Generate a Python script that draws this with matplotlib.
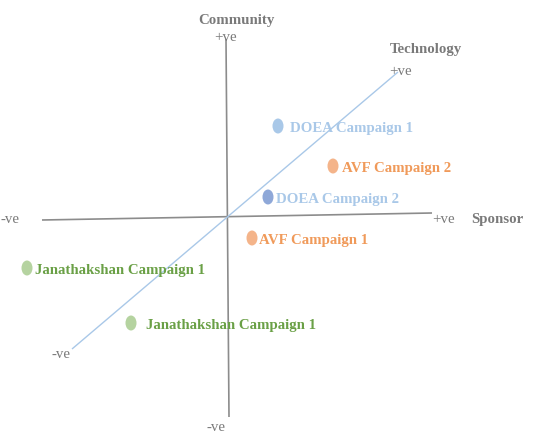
import matplotlib
matplotlib.use("Agg")
import matplotlib.pyplot as plt
from matplotlib.patches import Ellipse

plt.rcParams['font.family'] = ['Liberation Serif', 'DejaVu Serif']

# Campaign positions (diagram coordinates)
labels = ["DOEA Campaign 1", "AVF Campaign 2", "DOEA Campaign 2",
          "AVF Campaign 1", "Janathakshan Campaign 1", "Janathakshan Campaign 1"]
px = [278, 333, 268, 252, 27, 131]
py = [127, 167, 198, 239, 269, 324]
label_dx = [12, 9, 8, 7, 8, 15]
marker_colors = ["#a9c8e8", "#f4b48a", "#8fa8d8", "#f4b48a", "#b5d3a0", "#b5d3a0"]
text_colors = ["#a9c8e8", "#f09a5a", "#a9c8e8", "#f09a5a", "#6aa046", "#6aa046"]

# axis lines
sponsor_x = [42, 432]; sponsor_y = [221, 214]
community_x = [226, 229]; community_y = [40, 418]
tech_x = [72, 398]; tech_y = [350, 73]

FS = 10.7

fig = plt.figure(figsize=(5.36, 4.39), dpi=100)
ax = fig.add_axes([0, 0, 1, 1])
ax.set_xlim(0, 536)
ax.set_ylim(439, 0)
ax.axis('off')

ax.plot(sponsor_x, sponsor_y, color="#8c8c8c", lw=1.2, solid_capstyle='butt')
ax.plot(community_x, community_y, color="#8c8c8c", lw=1.2, solid_capstyle='butt')
ax.plot(tech_x, tech_y, color="#a9c8e8", lw=1.0, solid_capstyle='butt')

grey = "#7a7a7a"
def t(x, y, s, bold=False):
    ax.text(x, y + 1.5, s, fontsize=FS, fontweight='bold' if bold else 'normal',
            color=grey, ha='center', va='center')

t(236, 19, "Community", True)
t(226, 36, "+ve")
t(426, 48, "Technology", True)
t(401, 70, "+ve")
t(10, 218, "-ve")
t(444, 218, "+ve")
t(497, 218, "Sponsor", True)
t(61, 353, "-ve")
t(216, 426, "-ve")

for lab, x, y, dx, mc, tc in zip(labels, px, py, label_dx, marker_colors, text_colors):
    ax.add_patch(Ellipse((x, y), 11, 15, facecolor=mc, edgecolor='none', zorder=3))
    ax.text(x + dx, y + 1.5, lab, fontsize=FS, fontweight='bold', color=tc,
            ha='left', va='center', zorder=4)

fig.savefig("out.png", dpi=100)
